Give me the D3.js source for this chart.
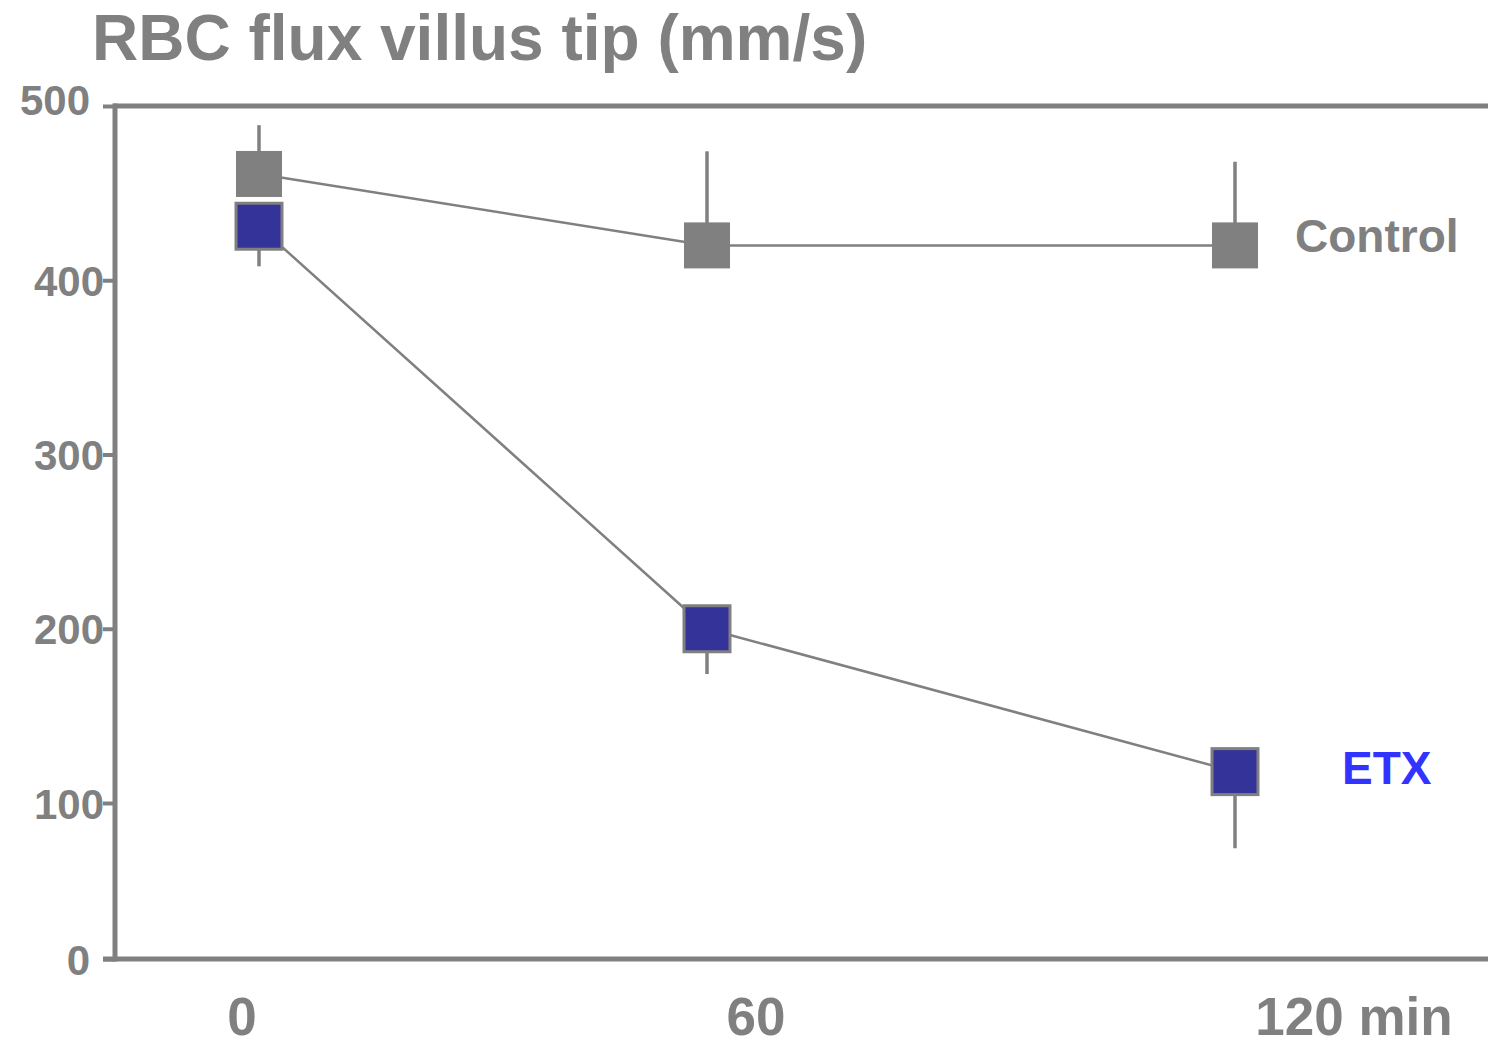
<!DOCTYPE html>
<html>
<head>
<meta charset="utf-8">
<script src="https://cdn.jsdelivr.net/npm/d3@7"></script>
<style>
  html, body { margin: 0; padding: 0; background: #ffffff; }
  svg { display: block; font-family: "Liberation Sans", Arial, Helvetica, sans-serif; font-weight: bold; }
</style>
</head>
<body>
<svg id="chart" width="1488" height="1045"></svg>
<script>
// ---- data ----
const times = [0, 60, 120];
const xTickLabels = ["0", "60", "120 min"];
const yTicks = [0, 100, 200, 300, 400, 500];
const seriesNames = ["Control", "ETX"];
const controlMean = [461, 420, 420];
const controlErr = [28, 54, 48];
const etxMean = [431, 200, 118];
const etxErr = [23, 26, 47];
const titleText = "RBC flux villus tip (mm/s)";

// ---- styles ----
const GREY = "#808080";
const BLUE_FILL = "#333399";
const BLUE_TEXT = "#3333ff";

const svg = d3.select("#chart");

// scales (piecewise-linear to follow the drawn axis)
const y = d3.scaleLinear().domain([0, 100, 500]).range([959, 803, 106]);
const x = d3.scaleLinear().domain([0, 60, 120]).range([259, 707, 1235]);
const xLabelPos = d3.scaleLinear().domain([0, 60, 120]).range([242, 756, 1354]);

// title
svg.append("text")
  .attr("x", 92).attr("y", 60)
  .attr("font-size", 64)
  .attr("fill", GREY)
  .text(titleText);

// frame lines: top border and bottom axis
svg.append("line")
  .attr("x1", 113).attr("x2", 1488)
  .attr("y1", y(500)).attr("y2", y(500))
  .attr("stroke", GREY).attr("stroke-width", 5);
svg.append("line")
  .attr("x1", 103).attr("x2", 1488)
  .attr("y1", y(0)).attr("y2", y(0))
  .attr("stroke", GREY).attr("stroke-width", 5);

// y axis
const yAxis = d3.axisLeft(y).tickValues(yTicks).tickSize(12).tickPadding(0).tickFormat(d3.format("d"));
const gy = svg.append("g").attr("transform", "translate(115,0)").call(yAxis);
gy.select(".domain").remove();
gy.append("line")
  .attr("x1", 0).attr("x2", 0)
  .attr("y1", y(500) - 2.5).attr("y2", y(0) + 2.5)
  .attr("stroke", GREY).attr("stroke-width", 5);
gy.selectAll(".tick line").attr("stroke", GREY).attr("stroke-width", 4);
gy.selectAll(".tick text")
  .attr("fill", GREY)
  .attr("font-size", 42)
  .attr("font-family", "'Liberation Sans', Arial, sans-serif")
  .attr("font-weight", "bold")
  .attr("x", d => (d === 0 || d === 500) ? -25 : -11)
  .attr("dy", d => d === 500 ? "0.2em" : "0.36em");

// x tick labels
svg.append("g").selectAll("text")
  .data(times)
  .join("text")
  .attr("x", d => xLabelPos(d))
  .attr("y", 1035)
  .attr("text-anchor", "middle")
  .attr("font-size", 53)
  .attr("fill", GREY)
  .text((d, i) => xTickLabels[i]);

const series = [
  { name: seriesNames[0], mean: controlMean, err: controlErr, dir: -1, fill: GREY, stroke: "none" },
  { name: seriesNames[1], mean: etxMean, err: etxErr, dir: 1, fill: BLUE_FILL, stroke: GREY }
];

const line = d3.line().x((d, i) => x(times[i])).y(d => y(d));

// connecting lines
series.forEach(s => {
  svg.append("path")
    .attr("d", line(s.mean))
    .attr("fill", "none")
    .attr("stroke", GREY)
    .attr("stroke-width", 2.5);
});

// error bars (one-sided)
series.forEach(s => {
  svg.append("g").selectAll("line")
    .data(s.mean)
    .join("line")
    .attr("x1", (d, i) => x(times[i]))
    .attr("x2", (d, i) => x(times[i]))
    .attr("y1", d => y(d))
    .attr("y2", (d, i) => y(d - s.dir * s.err[i]))
    .attr("stroke", GREY)
    .attr("stroke-width", 3.5);
});

// square markers
const SZ = 46;
series.forEach(s => {
  svg.append("g").selectAll("rect")
    .data(s.mean)
    .join("rect")
    .attr("x", (d, i) => x(times[i]) - SZ / 2)
    .attr("y", d => y(d) - SZ / 2)
    .attr("width", SZ)
    .attr("height", SZ)
    .attr("fill", s.fill)
    .attr("stroke", s.stroke)
    .attr("stroke-width", 3);
});

// series labels
svg.append("text")
  .attr("x", 1295).attr("y", 252)
  .attr("font-size", 46)
  .attr("fill", GREY)
  .text(seriesNames[0]);
svg.append("text")
  .attr("x", 1342).attr("y", 784)
  .attr("font-size", 46)
  .attr("fill", BLUE_TEXT)
  .text(seriesNames[1]);
</script>
</body>
</html>
